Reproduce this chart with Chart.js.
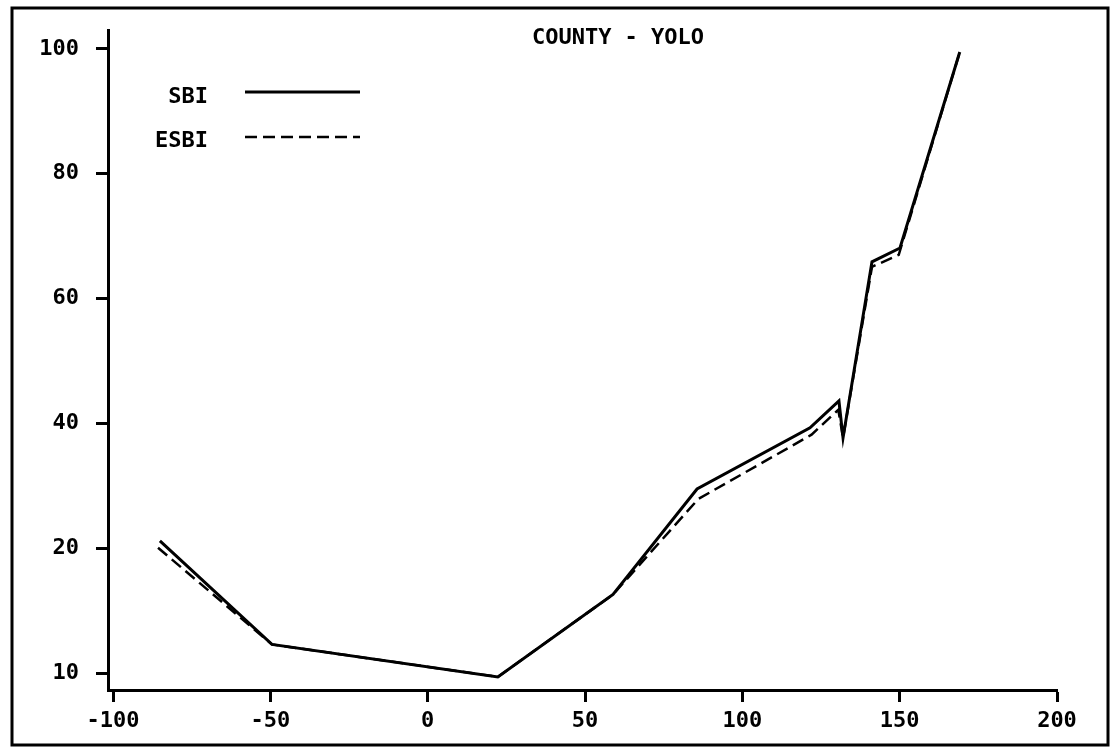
<!DOCTYPE html>
<html>
<head>
<meta charset="utf-8">
<script src="https://cdn.jsdelivr.net/npm/chart.js@4.4.1/dist/chart.umd.min.js"></script>
<style>
html,body{margin:0;padding:0;background:#fff;}
canvas{display:block;}
</style>
</head>
<body>
<canvas id="c" width="1112" height="751"></canvas>
<script>
// ---- data ----
const TITLE = 'COUNTY - YOLO';
const SERIES_NAMES = ['SBI', 'ESBI'];
const SBI_X  = [-85.1, -49.5, 22.3, 58.9, 85.6, 121.5, 130.7, 132.0, 141.2, 150.1, 169.1];
const SBI_Y  = [21.2, 12.3, 9.7, 16.3, 29.5, 39.3, 43.6, 37.7, 65.9, 68.1, 99.5];
const ESBI_X = [-85.7, -49.5, 22.3, 58.9, 86.0, 122.0, 130.5, 132.0, 141.2, 149.7, 169.1];
const ESBI_Y = [20.1, 12.3, 9.7, 16.3, 27.9, 38.2, 42.2, 37.7, 65.1, 67.0, 99.5];
const X_TICKS = [-100, -50, 0, 50, 100, 150, 200];
const Y_TICKS = [10, 20, 40, 60, 80, 100];
const Y_TICK_LABELS = ['10', '20', '40', '60', '80', '100'];

const FONT = '"DejaVu Sans Mono", "Liberation Mono", monospace';

// ---- piecewise y scale: tick values evenly spaced, linear between them ----
function toT(v) {
  const b = Y_TICKS, n = b.length;
  if (v <= b[1]) return (v - b[0]) / (b[1] - b[0]);
  for (let i = 1; i < n - 1; i++) {
    if (v <= b[i + 1]) return i + (v - b[i]) / (b[i + 1] - b[i]);
  }
  return (n - 2) + (v - b[n - 2]) / (b[n - 1] - b[n - 2]);
}
function fromT(t) {
  const b = Y_TICKS, n = b.length;
  let i = Math.floor(t);
  if (i < 0) i = 0;
  if (i > n - 2) i = n - 2;
  return b[i] + (t - i) * (b[i + 1] - b[i]);
}
class PiecewiseScale extends Chart.LinearScale {
  buildTicks() { return Y_TICKS.map(v => ({ value: v })); }
  configure() {
    super.configure();
    this._tMin = toT(this.min);
    this._tMax = toT(this.max);
  }
  getPixelForValue(v) {
    if (v === null || v === undefined) return NaN;
    return this.getPixelForDecimal((toT(v) - this._tMin) / (this._tMax - this._tMin));
  }
  getValueForPixel(p) {
    return fromT(this._tMin + this.getDecimalForPixel(p) * (this._tMax - this._tMin));
  }
}
PiecewiseScale.id = 'piecewise';
PiecewiseScale.defaults = {};
Chart.register(PiecewiseScale);

const pts = (xs, ys) => xs.map((x, i) => ({ x: x, y: ys[i] }));

const overlay = {
  id: 'overlay',
  beforeDraw(chart) {
    const ctx = chart.ctx;
    ctx.save();
    ctx.fillStyle = '#fff';
    ctx.fillRect(0, 0, chart.width, chart.height);
    ctx.restore();
  },
  afterDraw(chart) {
    const ctx = chart.ctx;
    ctx.save();
    // frame
    ctx.strokeStyle = '#000';
    ctx.lineWidth = 3;
    ctx.strokeRect(12, 8, 1096, 737);
    // title
    ctx.fillStyle = '#000';
    ctx.font = 'bold 22px ' + FONT;
    ctx.textAlign = 'center';
    ctx.textBaseline = 'middle';
    ctx.fillText(TITLE, 618, 38);
    // legend
    chart.data.datasets.forEach((ds, i) => {
      const ty = 97 + i * 44;
      const ly = 92 + i * 45;
      ctx.textAlign = 'right';
      ctx.fillText(ds.label, 208, ty);
      ctx.beginPath();
      ctx.setLineDash(ds.borderDash || []);
      ctx.lineWidth = ds.borderWidth;
      ctx.strokeStyle = ds.borderColor;
      ctx.moveTo(245, ly);
      ctx.lineTo(360, ly);
      ctx.stroke();
    });
    ctx.restore();
  }
};

new Chart(document.getElementById('c'), {
  type: 'line',
  data: {
    datasets: [
      { label: SERIES_NAMES[0], data: pts(SBI_X, SBI_Y), borderColor: '#000', borderWidth: 3, pointRadius: 0, tension: 0, fill: false },
      { label: SERIES_NAMES[1], data: pts(ESBI_X, ESBI_Y), borderColor: '#000', borderWidth: 2.5, borderDash: [12, 6], pointRadius: 0, tension: 0, fill: false }
    ]
  },
  options: {
    responsive: false,
    animation: false,
    devicePixelRatio: 1,
    layout: { padding: { top: 23, right: 55, left: 0, bottom: 0 } },
    plugins: { legend: { display: false }, title: { display: false }, tooltip: { enabled: false } },
    scales: {
      x: {
        type: 'linear',
        min: -101.6,
        max: 200,
        afterBuildTicks: s => { s.ticks = X_TICKS.map(v => ({ value: v })); },
        afterFit: s => { s.height = 61; },
        border: { display: true, color: '#000', width: 3 },
        grid: { drawOnChartArea: false, drawTicks: true, tickLength: 12, tickWidth: 3, tickColor: '#000', color: '#000' },
        ticks: { color: '#000', padding: 6, maxRotation: 0, autoSkip: false, font: { family: FONT, size: 22, weight: 'bold', lineHeight: 1.2 }, callback: v => String(v) }
      },
      y: {
        type: 'piecewise',
        min: 8.65,
        max: 103,
        afterFit: s => { s.width = 108; },
        border: { display: true, color: '#000', width: 3 },
        grid: { drawOnChartArea: false, drawTicks: true, tickLength: 12, tickWidth: 3, tickColor: '#000', color: '#000' },
        ticks: { color: '#000', padding: 17, autoSkip: false, font: { family: FONT, size: 22, weight: 'bold', lineHeight: 1.2 }, callback: (v, i) => Y_TICK_LABELS[i] }
      }
    }
  },
  plugins: [overlay]
});
</script>
</body>
</html>
